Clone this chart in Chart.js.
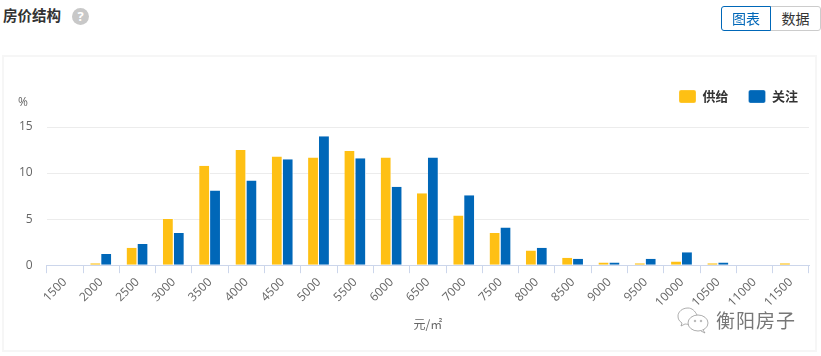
<!DOCTYPE html>
<html>
<head>
<meta charset="utf-8">
<script src="https://cdn.jsdelivr.net/npm/chart.js@4/dist/chart.umd.min.js"></script>
<style>
body { margin: 0; background: #fff; font-family: "Noto Sans CJK SC", sans-serif; }
#page { position: relative; width: 821px; height: 356px; overflow: hidden; }
#titulo { position: absolute; left: 3px; top: 5px; font-size: 14.5px; line-height: 20px; font-weight: 700; color: #333; }
#ajuda { position: absolute; left: 72px; top: 8px; width: 17px; height: 17px; border-radius: 50%; background: #c8c8c8; color: #fff; font: bold 13px/17px "Open Sans"; text-align: center; }
.botao { position: absolute; top: 6px; height: 25px; width: 50px; box-sizing: border-box; font-size: 14px; line-height: 23px; text-align: center; }
#b1 { left: 721px; border: 1px solid #0067b8; border-radius: 3px 0 0 3px; color: #0067b8; z-index: 1; }
#b2 { left: 770px; width: 51px; border: 1px solid #ccc; border-radius: 0 3px 3px 0; color: #333; }
#painel { position: absolute; left: 2px; top: 55px; width: 815px; height: 297px; box-sizing: border-box; border: 2px solid #f6f6f6; }
#pct { position: absolute; left: 18px; top: 95px; font: 12px/14px "Open Sans"; color: #666; }
#marca { position: absolute; left: 716px; top: 308px; font-size: 19px; line-height: 24px; color: #777; letter-spacing: 1px; }
#icone { position: absolute; left: 675px; top: 305px; }
canvas { position: absolute; left: 0; top: 0; }
</style>
</head>
<body>
<div id="page">
    <div id="titulo">房价结构</div>
    <div id="ajuda">?</div>
    <div class="botao" id="b1">图表</div>
    <div class="botao" id="b2">数据</div>
    <div id="painel"></div>
    <canvas id="grafico" width="821" height="356"></canvas>
    <div id="pct">%</div>
    <svg id="icone" width="36" height="30" fill="#fff" stroke="#999" stroke-width="0.8">
        <path d="M13 3c-6 0-10 4-10 8 0 3 1 5 4 7l-1 3 4-2c1 0 2 .4 4 .4 M22 10c-2-4-5-7-9-7"/>
        <ellipse cx="23" cy="18" rx="10" ry="8"/>
        <path d="M28 25l2 3-4-2"/>
        <circle cx="20" cy="16" r="0.8"/>
        <circle cx="26" cy="16" r="0.8"/>
    </svg>
    <div id="marca">衡阳房子</div>
</div>
<script>
const precos = ['1500', '2000', '2500', '3000', '3500', '4000', '4500', '5000', '5500', '6000', '6500', '7000', '7500', '8000', '8500', '9000', '9500', '10000', '10500', '11000', '11500'];
const oferta = [0, 0.2, 1.9, 5.0, 10.8, 12.5, 11.8, 11.7, 12.4, 11.7, 7.8, 5.4, 3.5, 1.6, 0.8, 0.3, 0.2, 0.4, 0.2, 0, 0.2];
const atencao = [0, 1.2, 2.3, 3.5, 8.1, 9.2, 11.5, 14.0, 11.6, 8.5, 11.7, 7.6, 4.1, 1.9, 0.7, 0.3, 0.7, 1.4, 0.3, 0, 0];
const ticksY = [0, 5, 10, 15];

const ctx = document.getElementById('grafico');

// a legenda fica mais alta e encostada a direita, sem mexer na area do grafico
const ajusteLegenda = {
    id: 'ajusteLegenda',
    beforeInit: function (chart) {
        const fitOriginal = chart.legend.fit;
        chart.legend.fit = function () {
            fitOriginal.call(this);
            this.height += 14;
        };
    },
    afterLayout: function (chart) {
        chart.legend.right += 9;
    }
};

var myBarChart = new Chart(ctx, {
    type: 'bar',
    data: {
        labels: precos,
        datasets: [
            { label: '供给', data: oferta, backgroundColor: '#fec014', borderColor: '#fff', borderWidth: { right: 1, left: 0 } },
            { label: '关注', data: atencao, backgroundColor: '#0067b8', borderColor: '#fff', borderWidth: { right: 1, left: 0 } }
        ]
    },
    plugins: [ajusteLegenda],
    options: {
        responsive: false,
        animation: false,
        categoryPercentage: 0.6,
        barPercentage: 1,
        layout: { padding: { top: 70, left: 5, right: 12, bottom: 0 } },
        scales: {
            y: {
                min: 0,
                max: 15,
                afterBuildTicks: function (eixo) {
                    eixo.ticks = ticksY.map(function (v) { return { value: v }; });
                },
                border: { display: false },
                grid: { color: '#ececec', drawTicks: false },
                ticks: { color: '#666', padding: 14, font: { family: 'Open Sans', size: 12 } }
            },
            x: {
                afterFit: function (eixo) {
                    eixo.paddingLeft = 0;
                    eixo.paddingRight = 0;
                },
                border: { color: '#ccd6eb' },
                grid: { drawOnChartArea: false, color: '#ccd6eb', tickLength: 8, offset: true },
                ticks: { color: '#666', maxRotation: 45, minRotation: 45, autoSkip: false, padding: 2, font: { family: 'Open Sans', size: 12 } },
                title: { display: true, text: '元/㎡', color: '#666', padding: { top: 6, bottom: 24 }, font: { family: 'Noto Sans CJK SC', size: 12 } }
            }
        },
        plugins: {
            tooltip: { enabled: false },
            legend: {
                position: 'top',
                align: 'end',
                labels: {
                    boxWidth: 17,
                    boxHeight: 13,
                    padding: 20,
                    color: '#333',
                    useBorderRadius: true,
                    borderRadius: 2,
                    font: { family: 'Noto Sans CJK SC', size: 13, weight: 'bold' }
                }
            }
        }
    }
});
</script>
</body>
</html>
